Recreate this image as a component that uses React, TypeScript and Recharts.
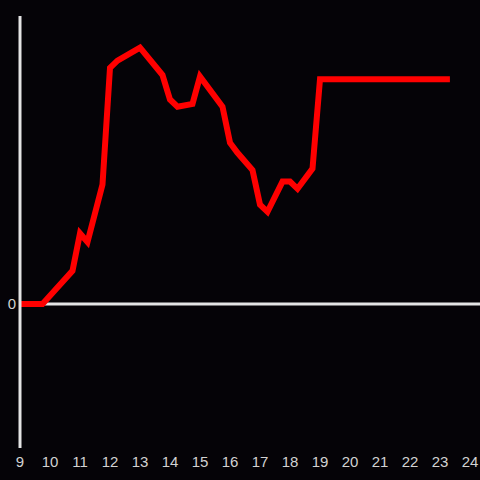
import React from "react";
import { LineChart, Line, XAxis, YAxis, ReferenceLine } from "recharts";

const hours = [9, 9.75, 10.75, 11, 11.25, 11.75, 12, 12.25, 13, 13.75, 14, 14.25, 14.75, 15, 15.75, 16, 16.25, 16.75, 17, 17.25, 17.75, 18, 18.25, 18.75, 19, 23.33];
const values = [0, 0, 23, 49, 43, 83, 164, 169, 178, 159, 142, 137, 139, 158, 137, 112, 105, 93, 69, 64, 85, 85, 80, 94, 156, 156];
const xTicks = [9, 10, 11, 12, 13, 14, 15, 16, 17, 18, 19, 20, 21, 22, 23, 24];
const yTicks = [0];

const data = hours.map((h, i) => ({ h, v: values[i] }));

const axisColor = "#e4e4e4";
const textColor = "#d2d2d2";

export default function App() {
  return (
    <div style={{ position: "fixed", left: 0, top: 0, width: 480, height: 480, background: "#050307" }}>
      <LineChart width={480} height={480} data={data} margin={{ top: 16, right: 0, bottom: 0, left: 0 }}>
        <XAxis
          dataKey="h"
          type="number"
          domain={[9, 24.3333]}
          ticks={xTicks}
          allowDataOverflow
          axisLine={false}
          tickLine={false}
          tickSize={0}
          tickMargin={8}
          height={32}
          tick={{ fill: textColor, fontSize: 15, fontFamily: "Liberation Sans" }}
        />
        <YAxis
          type="number"
          domain={[-100, 200]}
          ticks={yTicks}
          width={20}
          axisLine={{ stroke: axisColor, strokeWidth: 3 }}
          tickLine={false}
          tickSize={0}
          tickMargin={4}
          tick={{ fill: textColor, fontSize: 15, fontFamily: "Liberation Sans" }}
        />
        <ReferenceLine y={0} stroke={axisColor} strokeWidth={3} />
        <Line
          dataKey="v"
          stroke="#ff0000"
          strokeWidth={6}
          dot={false}
          isAnimationActive={false}
          strokeLinejoin="miter"
          strokeLinecap="butt"
        />
      </LineChart>
    </div>
  );
}
